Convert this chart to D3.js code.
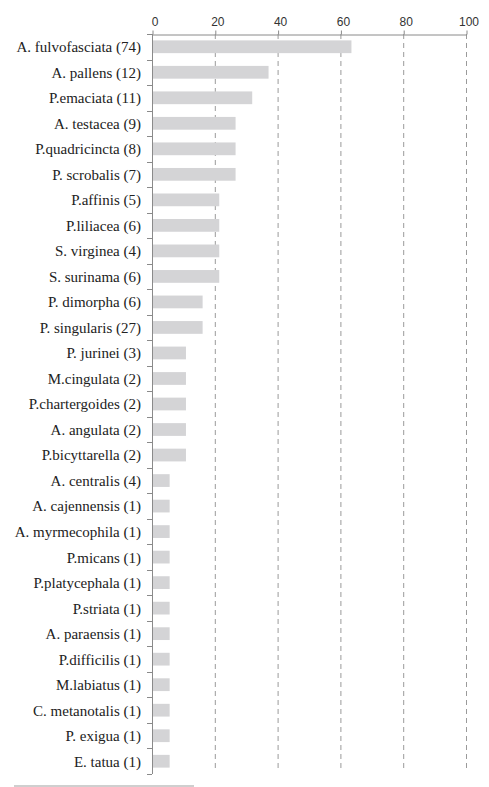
<!DOCTYPE html>
<html>
<head>
<meta charset="utf-8">
<script src="https://cdn.jsdelivr.net/npm/d3@7"></script>
<style>
  html, body { margin: 0; padding: 0; background: #fff; }
  svg { display: block; }
  .cat { font-family: "Liberation Serif", Tinos, "Times New Roman", "DejaVu Serif", serif; }
</style>
</head>
<body>
<div id="chart"></div>
<script>
const species = [
  "A. fulvofasciata (74)", "A. pallens (12)", "P.emaciata (11)", "A. testacea (9)",
  "P.quadricincta (8)", "P. scrobalis (7)", "P.affinis (5)", "P.liliacea (6)",
  "S. virginea (4)", "S. surinama (6)", "P. dimorpha (6)", "P. singularis (27)",
  "P. jurinei (3)", "M.cingulata (2)", "P.chartergoides (2)", "A. angulata (2)",
  "P.bicyttarella (2)", "A. centralis (4)", "A. cajennensis (1)", "A. myrmecophila (1)",
  "P.micans (1)", "P.platycephala (1)", "P.striata (1)", "A. paraensis (1)",
  "P.difficilis (1)", "M.labiatus (1)", "C. metanotalis (1)", "P. exigua (1)", "E. tatua (1)"
];
const percent = [
  63.2, 36.8, 31.6, 26.3,
  26.3, 26.3, 21.1, 21.1,
  21.1, 21.1, 15.8, 15.8,
  10.5, 10.5, 10.5, 10.5,
  10.5, 5.3, 5.3, 5.3,
  5.3, 5.3, 5.3, 5.3,
  5.3, 5.3, 5.3, 5.3, 5.3
];
const xTicks = [0, 20, 40, 60, 80, 100];

const W = 489, H = 787;
const mLeft = 152, mRight = 466, mTop = 34, mBottom = 774;

const svg = d3.select("#chart").append("svg").attr("width", W).attr("height", H);

const x = d3.scaleLinear().domain([0, 100]).range([mLeft, mRight]);
const y = d3.scaleBand().domain(species).range([mTop, mBottom]).paddingInner(0.5).paddingOuter(0.25);
const step = y.step();

// gridlines
svg.append("g").selectAll("line").data(xTicks.filter(d => d > 0)).join("line")
  .attr("x1", d => x(d) + 0.5).attr("x2", d => x(d) + 0.5)
  .attr("y1", mTop).attr("y2", mBottom - 2)
  .attr("stroke", "#9a9a9a").attr("stroke-width", 1).attr("stroke-dasharray", "5,4");

// bars
svg.append("g").selectAll("rect").data(species).join("rect")
  .attr("x", x(0) + 1)
  .attr("y", d => y(d))
  .attr("width", (d, i) => x(percent[i]) - x(0))
  .attr("height", y.bandwidth())
  .attr("fill", "#d4d4d6");

// top axis
const xAxis = d3.axisTop(x).tickValues(xTicks).tickSize(4).tickPadding(5).tickSizeOuter(0);
const gx = svg.append("g").attr("transform", `translate(0.5,${mTop + 0.5})`).call(xAxis);
gx.select(".domain").attr("stroke", "#8a8a8a");
gx.selectAll(".tick line").attr("stroke", "#8a8a8a");
gx.selectAll(".tick text").attr("font-family", "'Liberation Sans', Arial, sans-serif")
  .attr("font-size", 12).attr("fill", "#333").attr("dx", 2);

// left axis line with ticks at band boundaries
svg.append("line").attr("x1", x(0) + 0.5).attr("x2", x(0) + 0.5)
  .attr("y1", mTop).attr("y2", mBottom).attr("stroke", "#8a8a8a");
const bounds = d3.range(species.length + 1).map(i => mTop + i * step);
svg.append("g").selectAll("line").data(bounds).join("line")
  .attr("x1", x(0) - 5).attr("x2", x(0))
  .attr("y1", d => Math.round(d) + 0.5).attr("y2", d => Math.round(d) + 0.5)
  .attr("stroke", "#8a8a8a");

// category labels
svg.append("g").selectAll("text").data(species).join("text")
  .attr("class", "cat")
  .attr("x", 141)
  .attr("y", d => y(d) + y.bandwidth() / 2)
  .attr("dy", "0.36em")
  .attr("text-anchor", "end")
  .attr("font-size", 15)
  .attr("fill", "#222")
  .text(d => d);

// bottom decorative line
svg.append("line").attr("x1", 14).attr("x2", 194).attr("y1", 786).attr("y2", 786)
  .attr("stroke", "#cfcfcf").attr("stroke-width", 2);
</script>
</body>
</html>
